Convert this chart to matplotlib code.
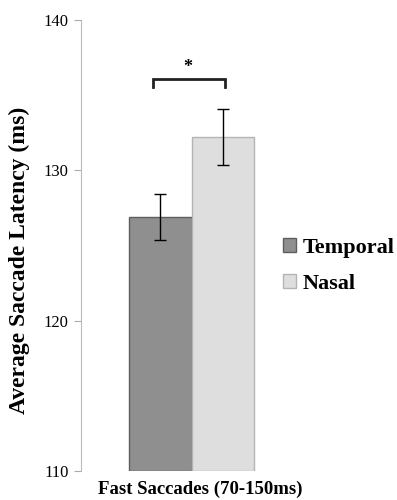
import matplotlib
matplotlib.use('Agg')
import matplotlib.pyplot as plt

# data
groups = ['Temporal', 'Nasal']
means = [126.9, 132.2]
errs = [1.55, 1.85]
face_cols = ['#8f8f8f', '#dedede']
edge_cols = ['#5e5e5e', '#b4b4b4']
yticks = [110, 120, 130, 140]

plt.rcParams['font.family'] = ['Liberation Serif', 'DejaVu Serif']

fig = plt.figure(figsize=(3.97, 5.0), dpi=100)
ax = fig.add_axes([81/397, 29/500, (330-81)/397, 451/500])

xpos = [0, 1]
for i in range(len(groups)):
    ax.bar(xpos[i], means[i] - 110, bottom=110, width=1.0, color=face_cols[i],
           edgecolor=edge_cols[i], linewidth=1.0, label=groups[i], zorder=2)
    ax.errorbar(xpos[i], means[i], yerr=errs[i], fmt='none', ecolor='black',
                elinewidth=1.0, capsize=4, capthick=1.0, zorder=3)

# significance bracket
bx0, bx1, by, bleg = -0.12, 1.03, 136.07, 135.53
ax.plot([bx0, bx0, bx1, bx1], [bleg, by, by, bleg], color='#222222', lw=2,
        solid_joinstyle='miter', zorder=3)
ax.text(0.44, 136.85, '*', ha='center', va='center', fontsize=13, fontweight='bold')

ax.set_xlim(-1.268, 2.708)
ax.set_ylim(110, 140)
ax.set_yticks(yticks)
ax.tick_params(axis='y', direction='out', length=5, color='#aaaaaa', labelsize=12, pad=4)
ax.set_xticks([])
for s in ['top', 'right', 'bottom']:
    ax.spines[s].set_visible(False)
ax.spines['left'].set_color('#bbbbbb')

fig.text(19/397, 1 - 260/500, 'Average Saccade Latency (ms)', rotation=90,
         ha='center', va='center', fontsize=17, fontweight='bold')
fig.text(200/397, 1 - 489/500, 'Fast Saccades (70-150ms)', ha='center', va='center',
         fontsize=13.5, fontweight='bold')

leg = fig.legend(loc='upper left', bbox_to_anchor=(263/397, 1 - 218/500), frameon=False,
                 prop={'weight': 'bold', 'size': 16}, handlelength=0.6, handleheight=0.6,
                 handletextpad=0.3, labelspacing=0.7)

fig.savefig('out.png', dpi=100)
